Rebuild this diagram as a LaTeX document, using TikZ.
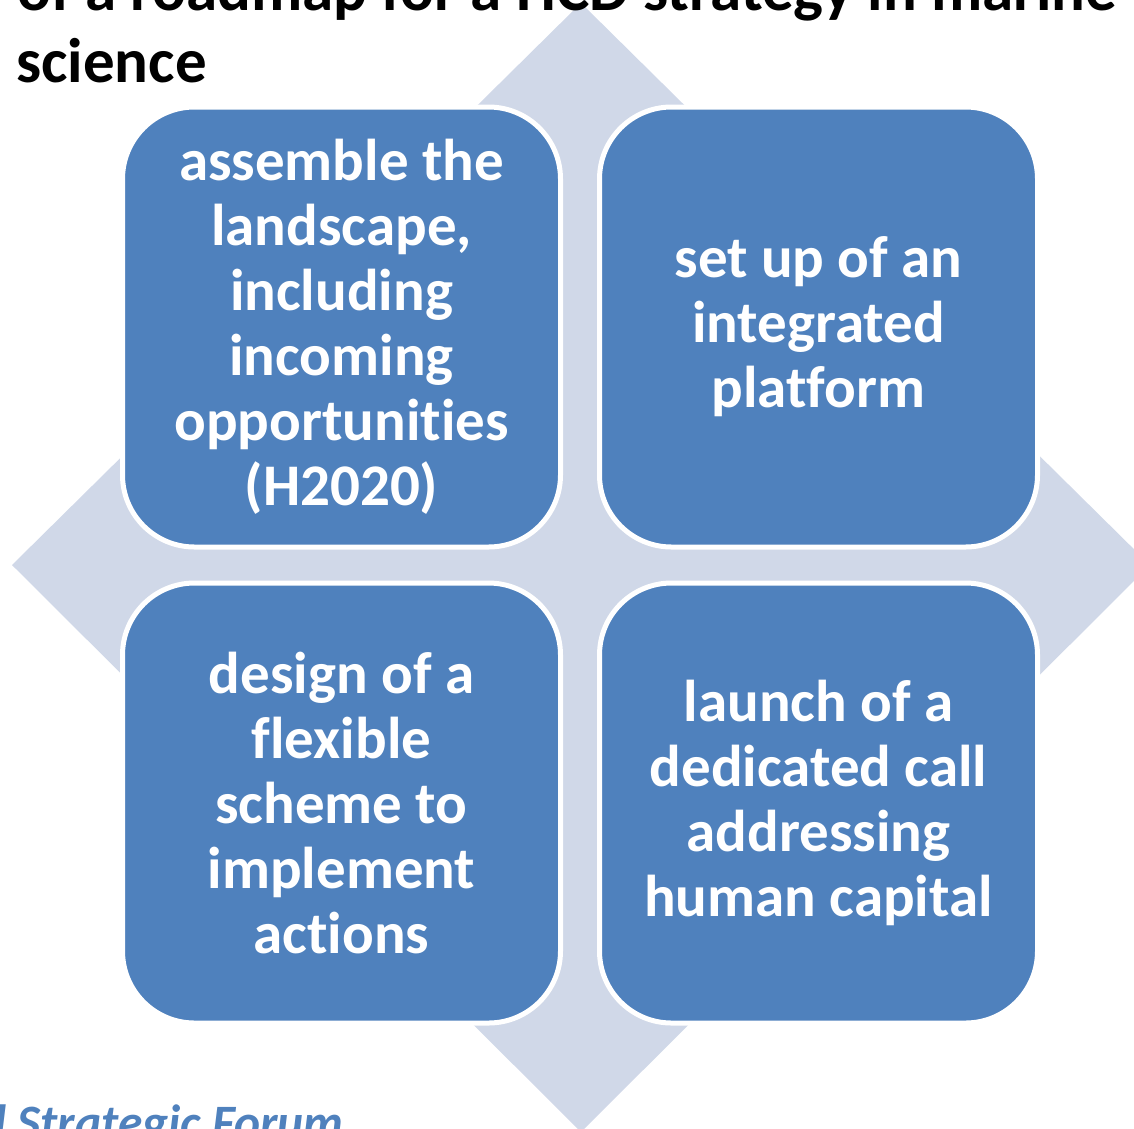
\documentclass[tikz,border=0pt]{standalone}
\usepackage{fontspec}
\setmainfont{Carlito}[Ligatures=NoCommon]
\definecolor{boxblue}{HTML}{4F81BD}
\definecolor{diamondc}{HTML}{D0D8E8}
\begin{document}
\begin{tikzpicture}[x=1pt,y=-1pt,
  quad/.style={rectangle, rounded corners=72pt, fill=boxblue, draw=white,
    line width=5pt, minimum width=438pt, minimum height=440pt, inner sep=0pt,
    align=center, text=white, font=\fontsize{59}{65}\selectfont\bfseries},
  titletext/.style={anchor=base west, inner sep=0pt, text=black,
    font=\fontsize{63}{73}\selectfont\bfseries},
  foottext/.style={anchor=base west, inner sep=0pt, text=boxblue,
    font=\fontsize{49.5}{60}\selectfont\bfseries\itshape}]
\useasboundingbox (0,0) rectangle (1134,1128);
\clip (0,0) rectangle (1134,1128);
% background diamond
\fill[diamondc] (581,3) -- (1150,565) -- (581,1132) -- (12,565) -- cycle;
% quadrant boxes
\node[quad] (tl) at (341.5,327) {assemble the\\landscape,\\including\\incoming\\opportunities\\(H2020)};
\node[quad] (tr) at (818.5,327) {set up of an\\integrated\\platform};
\node[quad] (bl) at (341.5,803) {design of a\\flexible\\scheme to\\implement\\actions};
\node[quad] (br) at (818.5,803) {launch of a\\dedicated call\\addressing\\human capital};
% title (cut off at top, as in the reference)
\node[titletext] (t1) at (17,10) {of a roadmap for a HCD strategy in marine};
\node[titletext] (t2) at (16,82) {science};
% footer (cut off at bottom, as in the reference)
\node[foottext] (ft) at (-6,1139) {l Strategic Forum};
\end{tikzpicture}
\end{document}
